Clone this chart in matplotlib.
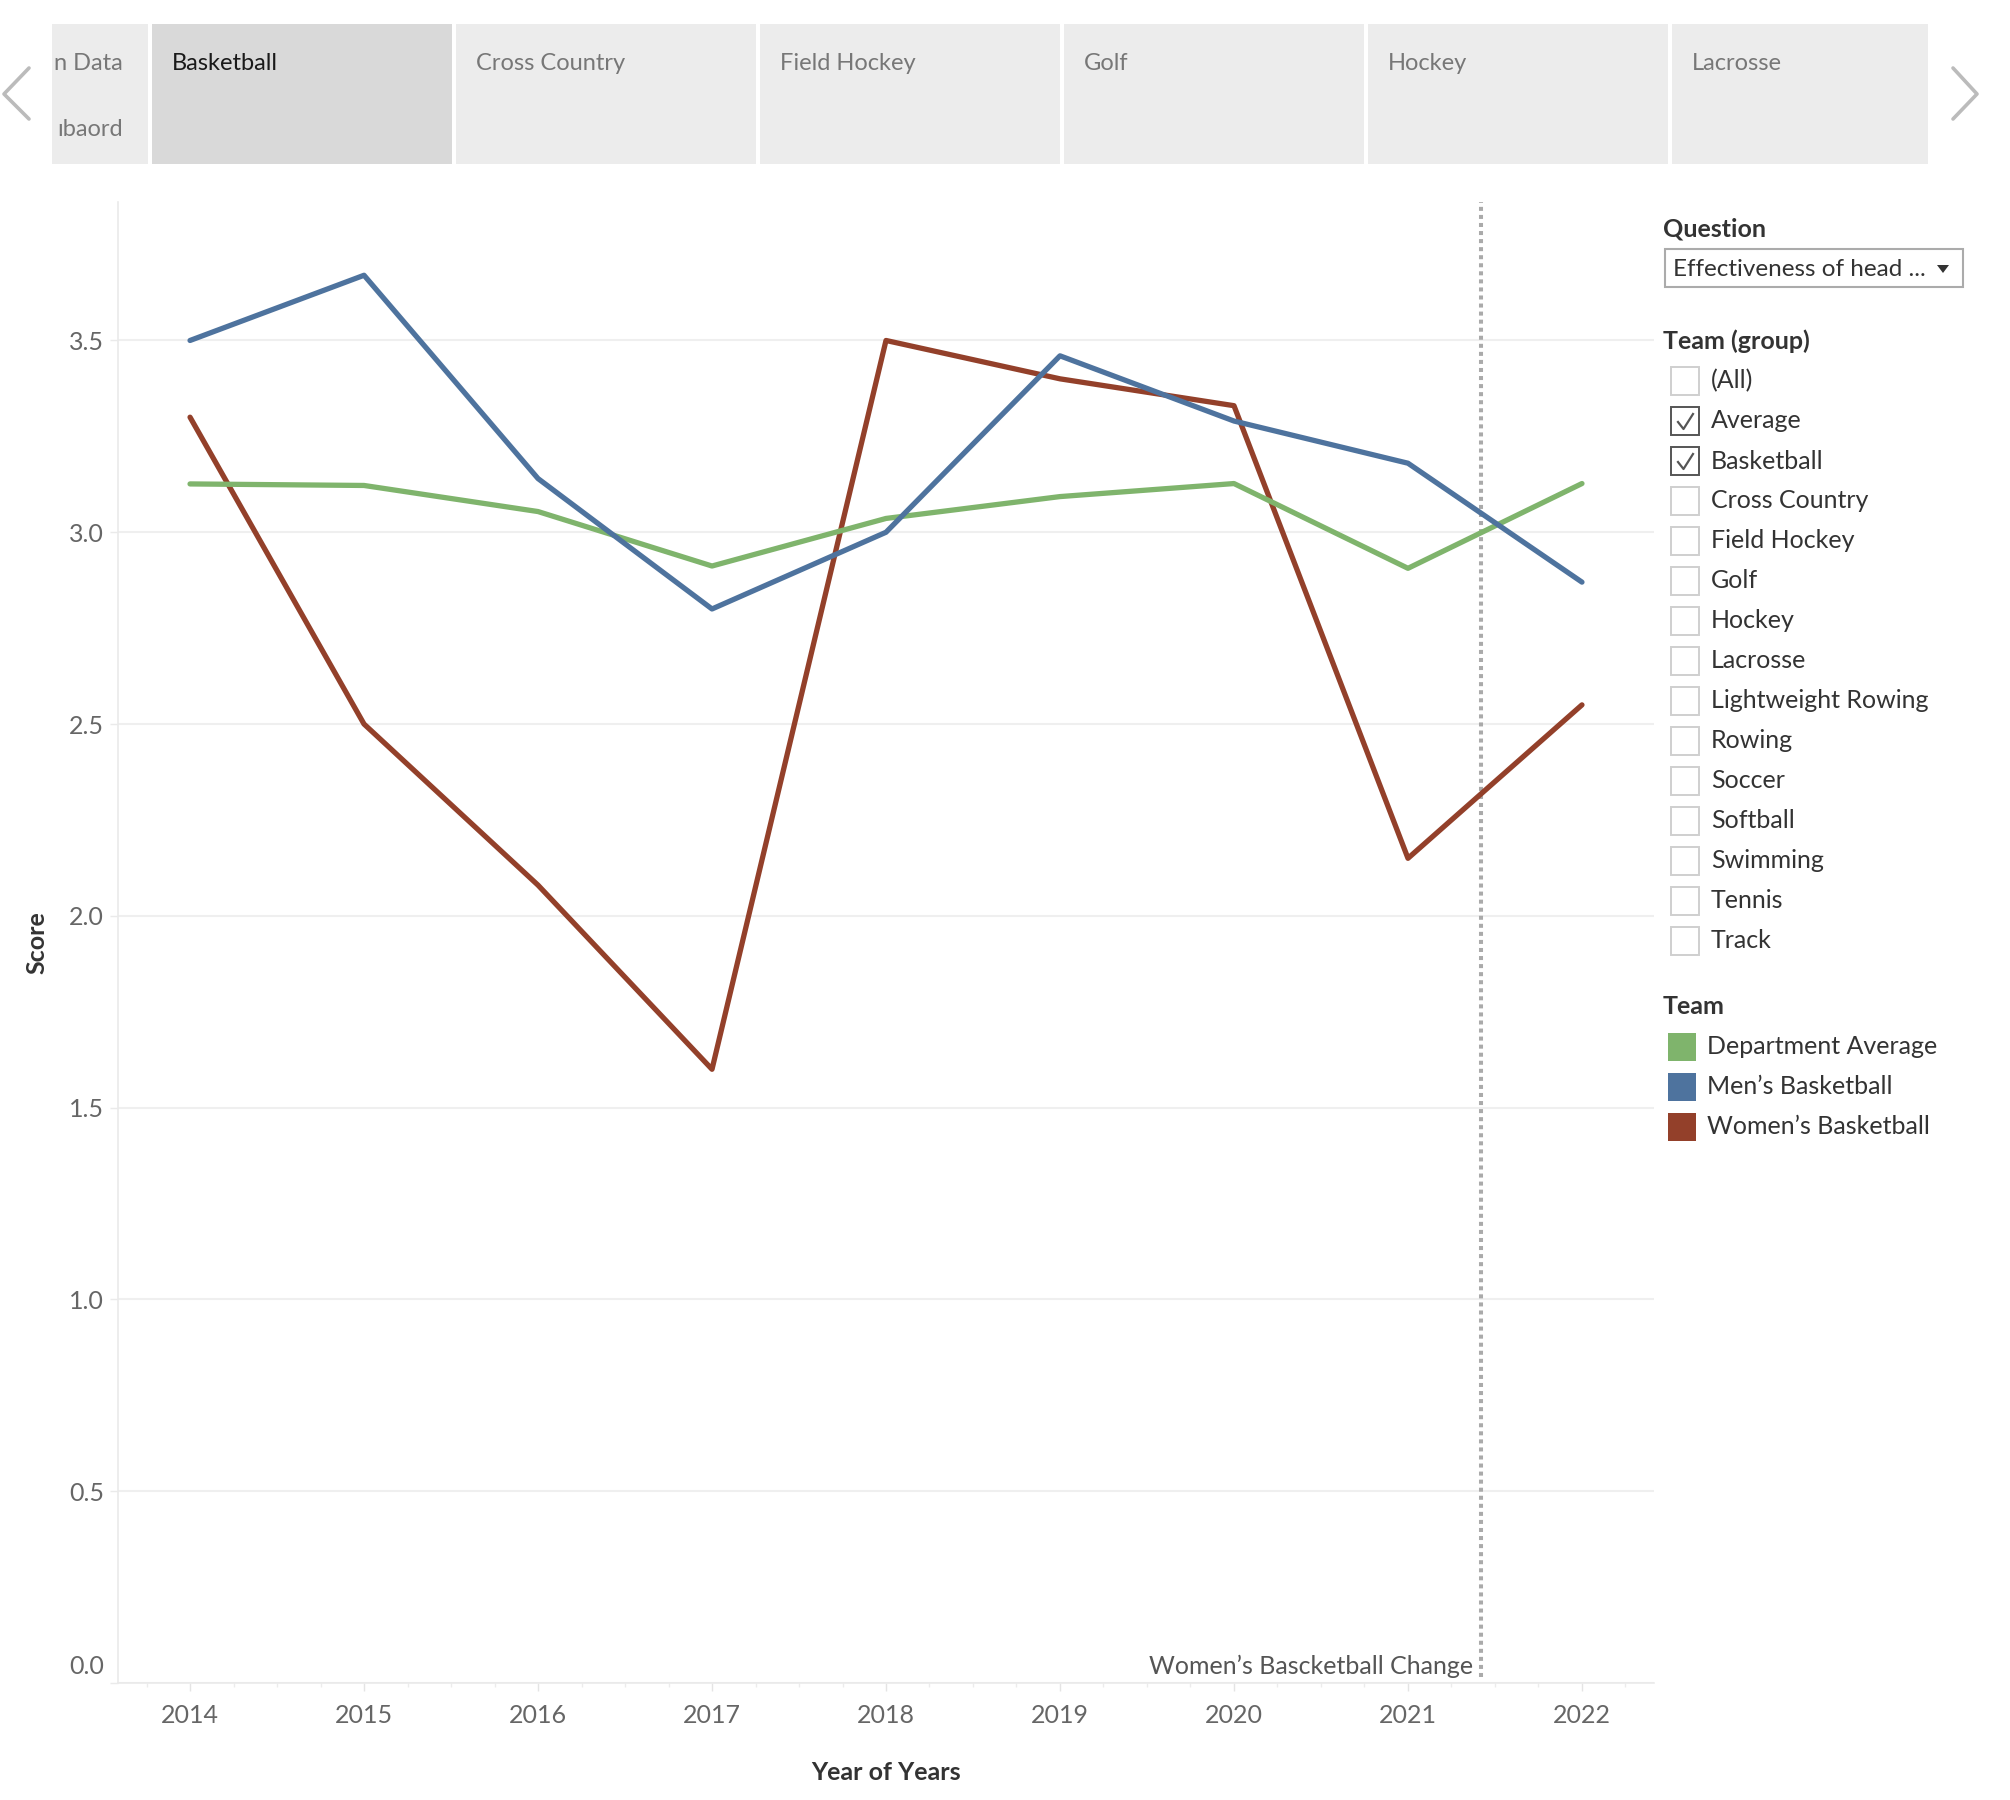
import matplotlib
matplotlib.use("Agg")
import matplotlib.pyplot as plt
from matplotlib.patches import Rectangle, Polygon
from matplotlib.lines import Line2D
from matplotlib.transforms import ScaledTranslation

plt.rcParams['font.family'] = ['Lato', 'DejaVu Sans']

# data
years = [2014, 2015, 2016, 2017, 2018, 2019, 2020, 2021, 2022]
dept_avg = [3.126, 3.122, 3.054, 2.912, 3.036, 3.093, 3.127, 2.906, 3.127]
mens_bb = [3.50, 3.67, 3.14, 2.80, 3.00, 3.46, 3.29, 3.18, 2.87]
womens_bb = [3.30, 2.50, 2.08, 1.60, 3.50, 3.40, 3.33, 2.15, 2.55]
change_year = 2021.42
change_label = 'Women\u2019s Bascketball Change'

series_names = ['Department Average', 'Men\u2019s Basketball', 'Women\u2019s Basketball']
series_colors = ['#7fb46c', '#4e739e', '#93402a']

tabs = ['Basketball', 'Cross Country', 'Field Hockey', 'Golf', 'Hockey', 'Lacrosse']
groups = ['(All)', 'Average', 'Basketball', 'Cross Country', 'Field Hockey', 'Golf',
          'Hockey', 'Lacrosse', 'Lightweight Rowing', 'Rowing', 'Soccer', 'Softball',
          'Swimming', 'Tennis', 'Track']
checked = ['Average', 'Basketball']
question = 'Effectiveness of head ...'

W, H = 2010, 1800
fig = plt.figure(figsize=(W / 100, H / 100), dpi=100)


def fx(x):
    return x / W


def fy(y):
    return 1 - y / H


FS = 18
ax = fig.add_axes([fx(118), fy(1683), (1654 - 118) / W, (1683 - 202) / H])

ax.plot(years, womens_bb, color=series_colors[2], lw=3.8, solid_capstyle='round',
        solid_joinstyle='round', zorder=3)
ax.plot(years, dept_avg, color=series_colors[0], lw=3.8, solid_capstyle='round',
        solid_joinstyle='round', zorder=4)
ax.plot(years, mens_bb, color=series_colors[1], lw=3.8, solid_capstyle='round',
        solid_joinstyle='round', zorder=5)

ax.axvline(change_year, ymin=0.004, ymax=1, color='#aaaaaa', lw=2.9,
           linestyle=(0, (1, 1)), zorder=2)
ax.annotate(change_label, xy=(change_year, 0), xytext=(-8, 17),
            textcoords='offset pixels', ha='right', va='center',
            fontsize=FS, color='#555555')

ax.set_xlim(2013.586, 2022.414)
ax.set_ylim(0, 3.861)
ax.set_xticks(years)
ax.set_xticks([y + q for y in range(2013, 2023) for q in (0.25, 0.5, 0.75)
               if 2013.586 < y + q < 2022.414], minor=True)
ax.set_yticks([0, 0.5, 1.0, 1.5, 2.0, 2.5, 3.0, 3.5])
ax.set_yticklabels(['0.0', '0.5', '1.0', '1.5', '2.0', '2.5', '3.0', '3.5'])
ax.grid(axis='y', color='#efefef', lw=1.5)
ax.set_axisbelow(True)
for s in ['top', 'right']:
    ax.spines[s].set_visible(False)
for s in ['left', 'bottom']:
    ax.spines[s].set_color('#eaeaea')
    ax.spines[s].set_linewidth(1.2)
ax.tick_params(axis='y', length=6, width=1, color='#eaeaea', pad=4,
               labelsize=FS, labelcolor='#666666')
ax.tick_params(axis='x', which='major', length=6, width=1, color='#e4e4e4', pad=9,
               labelsize=FS, labelcolor='#666666')
ax.tick_params(axis='x', which='minor', length=3, width=1, color='#ececec')
lbl0 = ax.get_yticklabels()[0]
lbl0.set_transform(lbl0.get_transform() + ScaledTranslation(0, 0.18, fig.dpi_scale_trans))

ax.set_ylabel('Score', fontsize=FS, fontweight='bold', color='#333333')
ax.yaxis.set_label_coords(-0.045, 0.5)
ax.set_xlabel('Year of Years', fontsize=FS, fontweight='bold', color='#333333')
ax.xaxis.set_label_coords(0.5, -0.053)

# tab strip
tab_edges = [(152, 452), (456, 756), (760, 1060), (1064, 1364), (1368, 1668), (1672, 1928)]
fig.add_artist(Rectangle((fx(52), fy(164)), fx(148 - 52), (164 - 24) / H,
                         transform=fig.transFigure, color='#ececec', lw=0))
for txt, yy in [('n Data', 63), ('\u0131baord', 129)]:
    fig.text(fx(123), fy(yy), txt, ha='right', va='center', fontsize=FS - 1,
             color='#777777')
for name, (x0, x1) in zip(tabs, tab_edges):
    sel = name == 'Basketball'
    fig.add_artist(Rectangle((fx(x0), fy(164)), fx(x1 - x0), (164 - 24) / H,
                             transform=fig.transFigure,
                             color='#d9d9d9' if sel else '#ececec', lw=0))
    fig.text(fx(x0 + 20), fy(63), name, ha='left', va='center', fontsize=FS - 1,
             color='#1a1a1a' if sel else '#777777')

for pts in ([(29, 68), (4, 94), (29, 119)], [(1953, 68), (1977, 94), (1953, 119)]):
    fig.add_artist(Line2D([fx(p[0]) for p in pts], [fy(p[1]) for p in pts],
                          transform=fig.transFigure, color='#bbbbbb', lw=2.6,
                          solid_capstyle='round'))

# question dropdown
fig.text(fx(1663), fy(229), 'Question', ha='left', va='center', fontsize=FS,
         fontweight='bold', color='#333333')
fig.add_artist(Rectangle((fx(1665), fy(287)), fx(1963 - 1665), (287 - 249) / H,
                         transform=fig.transFigure, facecolor='white',
                         edgecolor='#ababab', lw=1.5))
fig.text(fx(1673), fy(269), question, ha='left', va='center', fontsize=FS - 0.5,
         color='#333333')
fig.add_artist(Polygon([(fx(1937), fy(265)), (fx(1949), fy(265)), (fx(1943), fy(273))],
                       closed=True, transform=fig.transFigure, color='#333333', lw=0))

# team group filter
fig.text(fx(1663), fy(341), 'Team (group)', ha='left', va='center', fontsize=FS,
         fontweight='bold', color='#333333')
for i, g in enumerate(groups):
    yc = 381 + i * 40.0
    on = g in checked
    fig.add_artist(Rectangle((fx(1671), fy(yc + 14)), fx(28), 28 / H,
                             transform=fig.transFigure, facecolor='white',
                             edgecolor='#555555' if on else '#cfcfcf', lw=1.4))
    if on:
        fig.add_artist(Line2D([fx(1678), fx(1683.5), fx(1693)],
                              [fy(yc + 1), fy(yc + 8), fy(yc - 7)],
                              transform=fig.transFigure, color='#555555', lw=1.6))
    fig.text(fx(1711), fy(yc), g, ha='left', va='center', fontsize=FS, color='#333333')

# colour legend
fig.text(fx(1663), fy(1006), 'Team', ha='left', va='center', fontsize=FS,
         fontweight='bold', color='#333333')
for i, (nm, c) in enumerate(zip(series_names, series_colors)):
    yc = 1047 + i * 40.0
    fig.add_artist(Rectangle((fx(1668), fy(yc + 14)), fx(28), 28 / H,
                             transform=fig.transFigure, color=c, lw=0))
    fig.text(fx(1707), fy(yc), nm, ha='left', va='center', fontsize=FS, color='#333333')

fig.savefig('out.png', dpi=100, facecolor='white')
